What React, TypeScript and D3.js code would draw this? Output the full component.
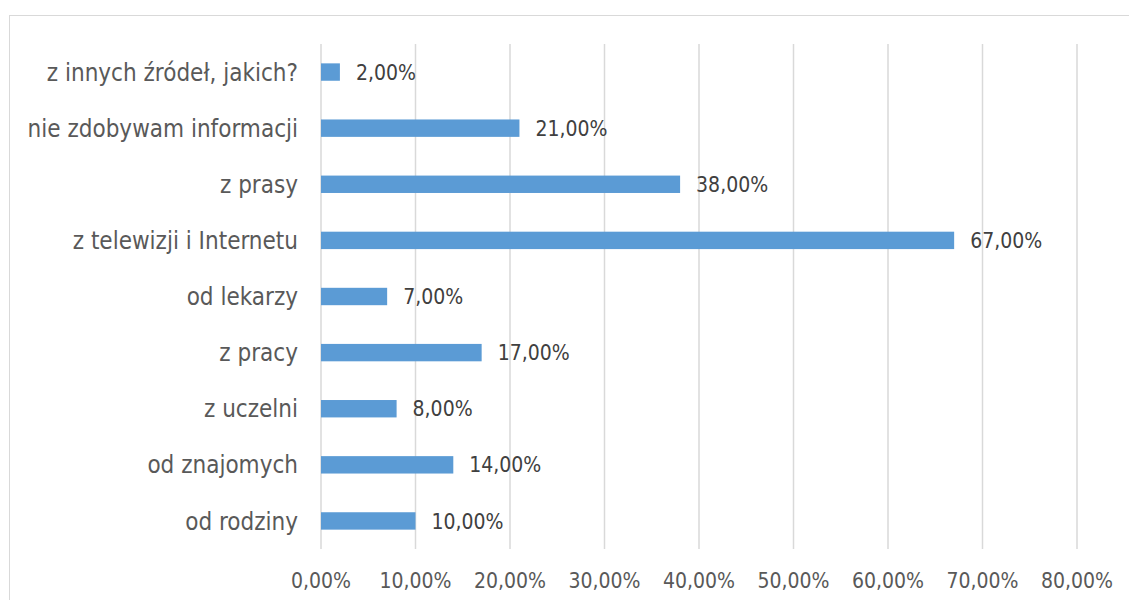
import React from "react";
import * as d3 from "d3";

const categories = [
  "z innych źródeł, jakich?",
  "nie zdobywam informacji",
  "z prasy",
  "z telewizji i Internetu",
  "od lekarzy",
  "z pracy",
  "z uczelni",
  "od znajomych",
  "od rodziny",
];
const values = [2, 21, 38, 67, 7, 17, 8, 14, 10];
const ticks = [0, 10, 20, 30, 40, 50, 60, 70, 80];

const W = 1129;
const H = 600;
const FONT = "'DejaVu Sans Condensed', 'DejaVu Sans', sans-serif";

export default function App() {
  const x = d3.scaleLinear().domain([0, 80]).range([321, 1077]);
  const y = d3.scaleBand<string>().domain(categories).range([44, 549]).paddingInner(0.69).paddingOuter(0.345);
  const fmt = (v: number) => v.toFixed(2).replace(".", ",") + "%";
  const txt = { fontFamily: FONT, fontStretch: "condensed" as const };
  return (
    <svg width={W} height={H} style={{ position: "absolute", left: 0, top: 0 }}>
      <rect x={0} y={0} width={W} height={H} fill="#fff" />
      <rect x={9.5} y={15.5} width={W + 10} height={H + 10} fill="none" stroke="#d9d9d9" strokeWidth={1} />
      {ticks.map((t) => (
        <line key={t} x1={x(t)} x2={x(t)} y1={44} y2={549} stroke="#d9d9d9" strokeWidth={1.5} />
      ))}
      {categories.map((c, i) => (
        <g key={c}>
          <rect x={x(0)} y={y(c)!} width={x(values[i]) - x(0)} height={y.bandwidth()} fill="#5b9bd5" />
          <text x={x(values[i]) + 16} y={y(c)! + y.bandwidth() / 2} dy="0.36em" style={txt} fontSize={21} fill="#404040">
            {fmt(values[i])}
          </text>
          <text x={298} y={y(c)! + y.bandwidth() / 2} dy="0.36em" textAnchor="end" style={txt} fontSize={24} fill="#595959">
            {c}
          </text>
        </g>
      ))}
      {ticks.map((t) => (
        <text key={t} x={x(t)} y={580} dy="0.36em" textAnchor="middle" style={txt} fontSize={21} fill="#595959">
          {fmt(t)}
        </text>
      ))}
    </svg>
  );
}
